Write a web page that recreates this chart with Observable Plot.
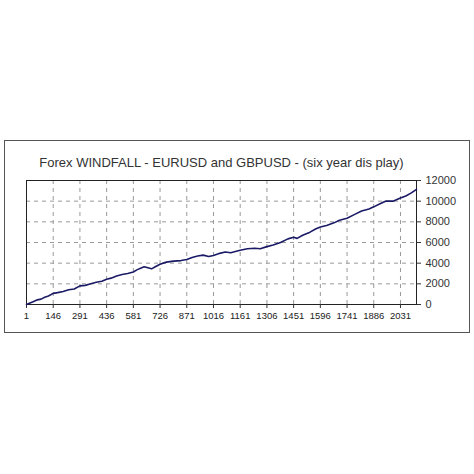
<!DOCTYPE html>
<html>
<head>
<meta charset="utf-8">
<script src="https://cdn.jsdelivr.net/npm/d3@7"></script>
<script src="https://cdn.jsdelivr.net/npm/@observablehq/plot@0.6"></script>
<style>
  html, body { margin: 0; padding: 0; background: #fff; }
  #wrap { position: relative; width: 474px; height: 474px; }
  #box { position: absolute; left: 4px; top: 140px; width: 464px; height: 191px; border: 1.5px solid #555; box-sizing: content-box; pointer-events: none; }
</style>
</head>
<body>
<div id="wrap"><div id="box"></div></div>
<script>
const title = "Forex WINDFALL - EURUSD and GBPUSD - (six year dis play)";
const xTicks = [1, 146, 291, 436, 581, 726, 871, 1016, 1161, 1306, 1451, 1596, 1741, 1886, 2031];
const yTicks = [0, 2000, 4000, 6000, 8000, 10000, 12000];
const trade = [1,20,40,60,80,100,120,146,170,200,230,260,291,320,350,380,410,436,460,490,520,550,581,600,620,640,660,680,700,726,760,800,840,871,900,930,960,990,1016,1050,1080,1110,1140,1161,1200,1240,1270,1306,1340,1380,1420,1451,1470,1500,1540,1570,1596,1630,1670,1700,1741,1780,1820,1860,1886,1920,1950,1990,2031,2060,2090,2118];
const balance = [0,150,300,450,520,700,820,1080,1150,1250,1420,1500,1800,1850,2000,2150,2250,2450,2550,2750,2900,3000,3150,3350,3500,3650,3550,3450,3650,3900,4100,4200,4250,4350,4550,4700,4780,4650,4750,4950,5080,5000,5150,5250,5400,5450,5400,5600,5750,6000,6350,6500,6400,6700,7000,7300,7500,7650,7900,8150,8350,8700,9050,9250,9450,9750,10000,10000,10300,10500,10800,11150];
const data = trade.map((t, i) => ({t, v: balance[i]}));

const chart = Plot.plot({
  width: 474,
  height: 474,
  marginLeft: 26,
  marginRight: 58,
  marginTop: 180,
  marginBottom: 170,
  style: {fontFamily: "Liberation Sans, Arial, sans-serif", color: "#333", background: "transparent"},
  x: {domain: [1, 2118]},
  y: {domain: [0, 12000]},
  marks: [
    Plot.ruleY(yTicks.filter(d => d > 0 && d < 12000), {stroke: "#999", strokeDasharray: "4,4", strokeWidth: 1}),
    Plot.ruleX(xTicks.filter(d => d > 1), {stroke: "#999", strokeDasharray: "4,4", strokeWidth: 1}),
    Plot.frame({stroke: "#222", strokeWidth: 1}),
    Plot.axisX({ticks: xTicks, tickSize: 4, tickPadding: 4, fontSize: 9.5, fill: "#222", tickFormat: d => String(d), label: null}),
    Plot.axisY({anchor: "right", ticks: yTicks, tickSize: 4, tickPadding: 5, fontSize: 11, textAnchor: "start", fill: "#333", tickFormat: d => String(d), label: null}),
    Plot.line(data, {x: "t", y: "v", stroke: "#1a1a66", strokeWidth: 1.6}),
    Plot.text([title], {frameAnchor: "top", dy: -23, fontSize: 13, fill: "#333", text: d => d, x: null, y: null})
  ]
});
document.getElementById("wrap").prepend(chart);
chart.style.position = "absolute";
chart.style.left = "0";
chart.style.top = "0";
</script>
</body>
</html>
